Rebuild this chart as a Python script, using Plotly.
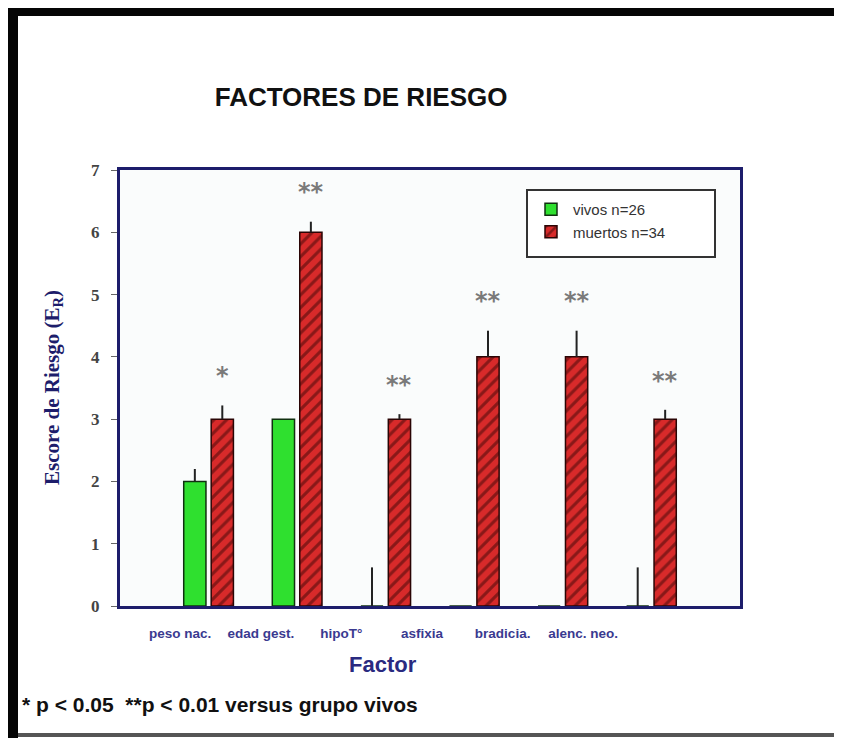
import plotly.graph_objects as go

# ---- data ----
factores = ["peso nac.", "edad gest.", "hipoT°", "asfixia", "bradicia.", "alenc. neo."]
vivos = [2, 3, 0, 0, 0, 0]
vivos_err = [0.2, 0, 0.62, 0, 0, 0.62]
muertos = [3, 6, 3, 4, 4, 3]
muertos_err = [0.22, 0.17, 0.08, 0.42, 0.42, 0.15]
signif = ["*", "**", "**", "**", "**", "**"]
y_ticks = [0, 1, 2, 3, 4, 5, 6, 7]

W, H = 842, 738
OFF = 8  # page body margin in the browser
L, R, T, B = 120 - OFF, 740 - OFF, 170 - OFF, 606 - OFF  # plot area in figure px

def px(x):
    return (x - OFF - L) / (R - L)

def py(y):
    return (B - (y - OFF)) / (B - T)

NAVY = "#1d1d6b"
idx = list(range(len(factores)))

fig = go.Figure()
fig.add_trace(go.Bar(
    x=idx, y=vivos, name="vivos n=26",
    marker=dict(color="#2fe02f", line=dict(color="#103010", width=1.5)),
    error_y=dict(type="data", array=vivos_err, arrayminus=[0] * len(vivos),
                 symmetric=False, color="#222", thickness=2, width=0),
))
fig.add_trace(go.Bar(
    x=idx, y=muertos, name="muertos n=34",
    marker=dict(color="#d82a2a", line=dict(color="#2a0505", width=1.5),
                pattern=dict(shape="/", fgcolor="#3a0606", size=9, solidity=0.35)),
    error_y=dict(type="data", array=muertos_err, arrayminus=[0] * len(muertos),
                 symmetric=False, color="#222", thickness=2, width=0),
))

annotations = []
for i, s in enumerate(signif):
    annotations.append(dict(
        x=i + 0.155, y=muertos[i] + muertos_err[i] + 0.47, xref="x", yref="y",
        text="<b>" + s + "</b>", showarrow=False,
        font=dict(family="DejaVu Sans", size=24, color="#7a7a7a"),
        xanchor="center", yanchor="middle",
    ))

annotations.append(dict(
    x=px(53), y=py(388), xref="paper", yref="paper", textangle=-90,
    text="<b>Escore de Riesgo (E<sub>R</sub>)</b>", showarrow=False,
    font=dict(family="Liberation Serif", size=21, color=NAVY),
    xanchor="center", yanchor="middle",
))
annotations.append(dict(
    x=px(383), y=py(664), xref="paper", yref="paper",
    text="<b>Factor</b>", showarrow=False,
    font=dict(family="Liberation Sans", size=22, color="#2a2a80"),
    xanchor="center", yanchor="middle",
))
annotations.append(dict(
    x=px(20), y=py(704), xref="paper", yref="paper",
    text="<b>* p &lt; 0.05  **p &lt; 0.01 versus grupo vivos</b>", showarrow=False,
    font=dict(family="Liberation Sans", size=21, color="#111"),
    xanchor="left", yanchor="middle",
))

shapes = [
    # slide frame
    dict(type="rect", xref="paper", yref="paper", x0=px(7), x1=px(850), y0=py(16), y1=py(6),
         fillcolor="#050505", line=dict(width=0), layer="above"),
    dict(type="rect", xref="paper", yref="paper", x0=px(7), x1=px(18), y0=py(745), y1=py(6),
         fillcolor="#050505", line=dict(width=0), layer="above"),
    dict(type="rect", xref="paper", yref="paper", x0=px(18), x1=px(850), y0=py(737), y1=py(733),
         fillcolor="#555555", line=dict(width=0), layer="above"),
    dict(type="rect", xref="paper", yref="paper", x0=px(835), x1=px(838), y0=py(733), y1=py(16),
         fillcolor="#dddddd", line=dict(width=0), layer="above"),
    # legend box
    dict(type="rect", xref="paper", yref="paper", x0=px(527), x1=px(715), y0=py(257), y1=py(190),
         fillcolor="white", line=dict(color="#333", width=2), layer="above"),
]

tick_pos = [i * 0.91 - 0.32 for i in idx]

fig.update_layout(
    width=W, height=H,
    margin=dict(l=L, r=W - R, t=T, b=H - B, pad=0),
    paper_bgcolor="white", plot_bgcolor="#fafcfc",
    barmode="group", bargap=0.38, bargroupgap=0.19,
    title=dict(text="<b>FACTORES DE RIESGO</b>", x=px(380), xanchor="center",
               y=1 - (97 - OFF) / H, yanchor="middle",
               font=dict(family="Liberation Sans", size=26, color="#111")),
    showlegend=True,
    legend=dict(x=px(529), y=py(193), xanchor="left", yanchor="top",
                bgcolor="rgba(0,0,0,0)", borderwidth=0,
                font=dict(family="Liberation Sans", size=15, color="#333"),
                itemwidth=34),
    annotations=annotations,
    shapes=shapes,
    xaxis=dict(range=[-1, 6], tickmode="array", tickvals=tick_pos, ticktext=[f"<b>{t}</b>" for t in factores],
               tickfont=dict(family="Liberation Sans", size=13.5, color="#3a3a90"),
               showline=True, linecolor=NAVY, linewidth=3, mirror=True,
               ticks="", ticklabelstandoff=13, showgrid=False, zeroline=False),
    yaxis=dict(range=[0, 7], tickmode="array", tickvals=y_ticks, ticktext=[f"<b>{v}</b>" for v in y_ticks],
               tickfont=dict(family="Liberation Serif", size=17, color="#444"),
               showline=True, linecolor=NAVY, linewidth=3, mirror=True,
               ticks="outside", ticklen=6, tickcolor="#666", tickwidth=1,
               ticklabelstandoff=8, showgrid=False, zeroline=False),
)

fig.write_html("out.html")
